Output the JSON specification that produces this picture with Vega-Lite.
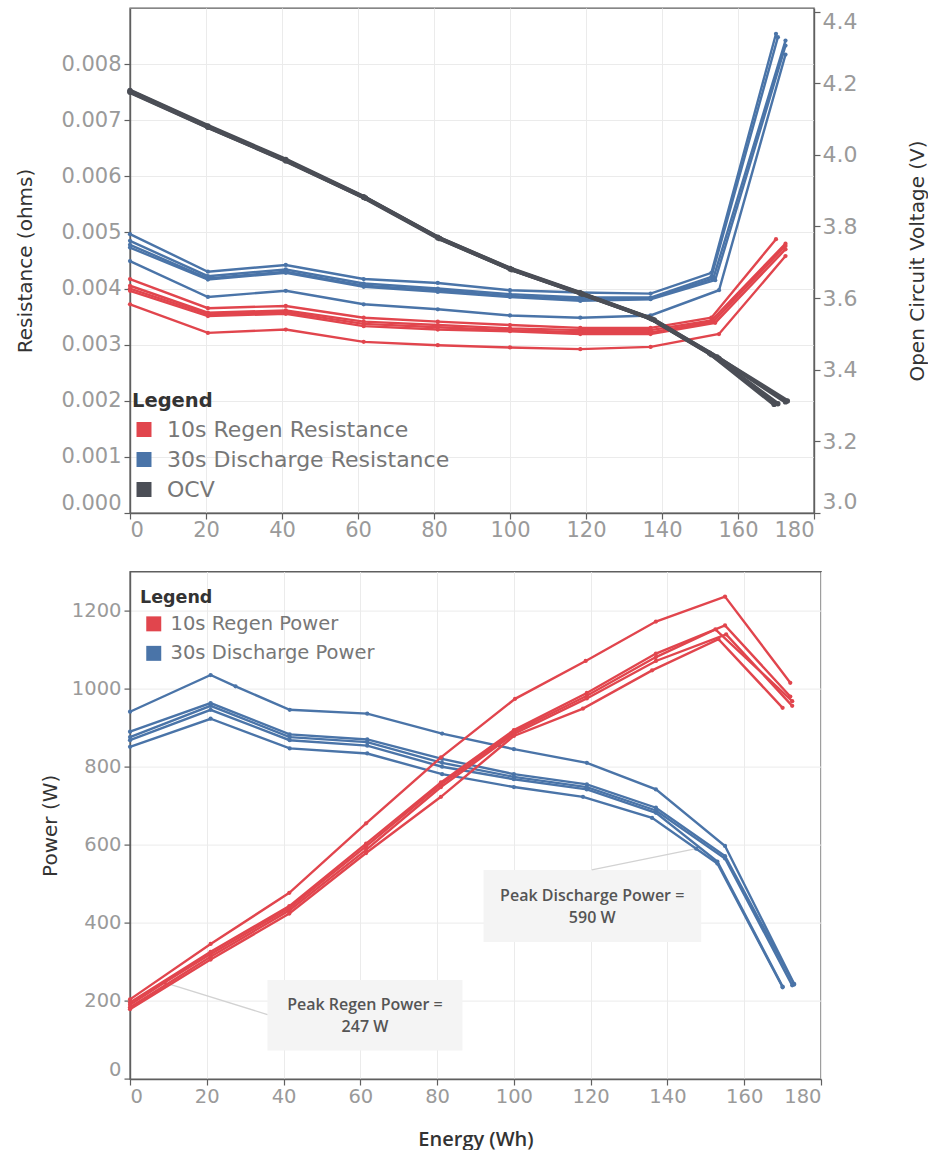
{
  "$schema": "https://vega.github.io/schema/vega-lite/v6.json",
  "padding": {"left": 14, "top": 7, "right": 0, "bottom": 0},
  "bounds": "flush",
  "spacing": 58.6,
  "config": {
    "font": "DejaVu Sans",
    "view": {"stroke": "#5f5f5f", "strokeWidth": 1.4},
    "axis": {
      "labelFont": "DejaVu Sans",
      "titleFont": "DejaVu Sans",
      "labelColor": "#9a9a9a",
      "titleColor": "#333333",
      "titleFontWeight": "normal",
      "domainColor": "#5f5f5f",
      "domainWidth": 1.4,
      "tickColor": "#5f5f5f",
      "tickSize": 6,
      "tickWidth": 1.2,
      "gridColor": "#ebebeb",
      "gridWidth": 1,
      "labelPadding": 3
    },
    "legend": {
      "orient": "none",
      "symbolType": "square",
      "padding": 0,
      "labelLimit": 0,
      "titleFont": "DejaVu Sans",
      "labelFont": "DejaVu Sans",
      "titleFontWeight": "bold",
      "titleColor": "#333333",
      "labelColor": "#777777",
      "symbolOpacity": 1
    }
  },
  "datasets": {
    "resistance": [
      {"cell": "A", "series": "10s Regen Resistance", "energy": 0, "resistance": 0.00417},
      {"cell": "A", "series": "10s Regen Resistance", "energy": 20.5, "resistance": 0.00365},
      {"cell": "A", "series": "10s Regen Resistance", "energy": 41, "resistance": 0.00369},
      {"cell": "A", "series": "10s Regen Resistance", "energy": 61.5, "resistance": 0.00348},
      {"cell": "A", "series": "10s Regen Resistance", "energy": 81, "resistance": 0.00341},
      {"cell": "A", "series": "10s Regen Resistance", "energy": 100, "resistance": 0.00335},
      {"cell": "A", "series": "10s Regen Resistance", "energy": 118.5, "resistance": 0.0033},
      {"cell": "A", "series": "10s Regen Resistance", "energy": 137, "resistance": 0.0033},
      {"cell": "A", "series": "10s Regen Resistance", "energy": 153, "resistance": 0.00348},
      {"cell": "A", "series": "10s Regen Resistance", "energy": 170, "resistance": 0.00488},
      {"cell": "B", "series": "10s Regen Resistance", "energy": 0, "resistance": 0.00405},
      {"cell": "B", "series": "10s Regen Resistance", "energy": 20.5, "resistance": 0.00357},
      {"cell": "B", "series": "10s Regen Resistance", "energy": 41, "resistance": 0.00361},
      {"cell": "B", "series": "10s Regen Resistance", "energy": 61.5, "resistance": 0.00341},
      {"cell": "B", "series": "10s Regen Resistance", "energy": 81, "resistance": 0.00335},
      {"cell": "B", "series": "10s Regen Resistance", "energy": 100, "resistance": 0.00329},
      {"cell": "B", "series": "10s Regen Resistance", "energy": 118.5, "resistance": 0.00326},
      {"cell": "B", "series": "10s Regen Resistance", "energy": 137, "resistance": 0.00326},
      {"cell": "B", "series": "10s Regen Resistance", "energy": 153, "resistance": 0.00343},
      {"cell": "B", "series": "10s Regen Resistance", "energy": 172.5, "resistance": 0.0048},
      {"cell": "C", "series": "10s Regen Resistance", "energy": 0, "resistance": 0.004},
      {"cell": "C", "series": "10s Regen Resistance", "energy": 20.5, "resistance": 0.00354},
      {"cell": "C", "series": "10s Regen Resistance", "energy": 41, "resistance": 0.00358},
      {"cell": "C", "series": "10s Regen Resistance", "energy": 61.5, "resistance": 0.00337},
      {"cell": "C", "series": "10s Regen Resistance", "energy": 81, "resistance": 0.00331},
      {"cell": "C", "series": "10s Regen Resistance", "energy": 100, "resistance": 0.00326},
      {"cell": "C", "series": "10s Regen Resistance", "energy": 118.5, "resistance": 0.00322},
      {"cell": "C", "series": "10s Regen Resistance", "energy": 137, "resistance": 0.00322},
      {"cell": "C", "series": "10s Regen Resistance", "energy": 153.5, "resistance": 0.00341},
      {"cell": "C", "series": "10s Regen Resistance", "energy": 172.5, "resistance": 0.00476},
      {"cell": "D", "series": "10s Regen Resistance", "energy": 0, "resistance": 0.00396},
      {"cell": "D", "series": "10s Regen Resistance", "energy": 20.5, "resistance": 0.00351},
      {"cell": "D", "series": "10s Regen Resistance", "energy": 41, "resistance": 0.00355},
      {"cell": "D", "series": "10s Regen Resistance", "energy": 61.5, "resistance": 0.00333},
      {"cell": "D", "series": "10s Regen Resistance", "energy": 81, "resistance": 0.00327},
      {"cell": "D", "series": "10s Regen Resistance", "energy": 100, "resistance": 0.00324},
      {"cell": "D", "series": "10s Regen Resistance", "energy": 118.5, "resistance": 0.00319},
      {"cell": "D", "series": "10s Regen Resistance", "energy": 137, "resistance": 0.00319},
      {"cell": "D", "series": "10s Regen Resistance", "energy": 154, "resistance": 0.00339},
      {"cell": "D", "series": "10s Regen Resistance", "energy": 172.5, "resistance": 0.0047},
      {"cell": "E", "series": "10s Regen Resistance", "energy": 0, "resistance": 0.00372},
      {"cell": "E", "series": "10s Regen Resistance", "energy": 20.5, "resistance": 0.00321},
      {"cell": "E", "series": "10s Regen Resistance", "energy": 41, "resistance": 0.00327},
      {"cell": "E", "series": "10s Regen Resistance", "energy": 61.5, "resistance": 0.00305},
      {"cell": "E", "series": "10s Regen Resistance", "energy": 81, "resistance": 0.00299},
      {"cell": "E", "series": "10s Regen Resistance", "energy": 100, "resistance": 0.00295},
      {"cell": "E", "series": "10s Regen Resistance", "energy": 118.5, "resistance": 0.00292},
      {"cell": "E", "series": "10s Regen Resistance", "energy": 137, "resistance": 0.00296},
      {"cell": "E", "series": "10s Regen Resistance", "energy": 155, "resistance": 0.00319},
      {"cell": "E", "series": "10s Regen Resistance", "energy": 172.5, "resistance": 0.00458},
      {"cell": "A", "series": "30s Discharge Resistance", "energy": 0, "resistance": 0.00497},
      {"cell": "A", "series": "30s Discharge Resistance", "energy": 20.5, "resistance": 0.0043},
      {"cell": "A", "series": "30s Discharge Resistance", "energy": 41, "resistance": 0.00442},
      {"cell": "A", "series": "30s Discharge Resistance", "energy": 61.5, "resistance": 0.00417},
      {"cell": "A", "series": "30s Discharge Resistance", "energy": 81, "resistance": 0.0041},
      {"cell": "A", "series": "30s Discharge Resistance", "energy": 100, "resistance": 0.00397},
      {"cell": "A", "series": "30s Discharge Resistance", "energy": 118.5, "resistance": 0.00393},
      {"cell": "A", "series": "30s Discharge Resistance", "energy": 137, "resistance": 0.00391},
      {"cell": "A", "series": "30s Discharge Resistance", "energy": 153, "resistance": 0.00428},
      {"cell": "A", "series": "30s Discharge Resistance", "energy": 170, "resistance": 0.00854},
      {"cell": "B", "series": "30s Discharge Resistance", "energy": 0, "resistance": 0.00485},
      {"cell": "B", "series": "30s Discharge Resistance", "energy": 20.5, "resistance": 0.00422},
      {"cell": "B", "series": "30s Discharge Resistance", "energy": 41, "resistance": 0.00434},
      {"cell": "B", "series": "30s Discharge Resistance", "energy": 61.5, "resistance": 0.00409},
      {"cell": "B", "series": "30s Discharge Resistance", "energy": 81, "resistance": 0.004},
      {"cell": "B", "series": "30s Discharge Resistance", "energy": 100, "resistance": 0.0039},
      {"cell": "B", "series": "30s Discharge Resistance", "energy": 118.5, "resistance": 0.00384},
      {"cell": "B", "series": "30s Discharge Resistance", "energy": 137, "resistance": 0.00384},
      {"cell": "B", "series": "30s Discharge Resistance", "energy": 153, "resistance": 0.00421},
      {"cell": "B", "series": "30s Discharge Resistance", "energy": 170.5, "resistance": 0.00848},
      {"cell": "C", "series": "30s Discharge Resistance", "energy": 0, "resistance": 0.00478},
      {"cell": "C", "series": "30s Discharge Resistance", "energy": 20.5, "resistance": 0.00418},
      {"cell": "C", "series": "30s Discharge Resistance", "energy": 41, "resistance": 0.0043},
      {"cell": "C", "series": "30s Discharge Resistance", "energy": 61.5, "resistance": 0.00405},
      {"cell": "C", "series": "30s Discharge Resistance", "energy": 81, "resistance": 0.00397},
      {"cell": "C", "series": "30s Discharge Resistance", "energy": 100, "resistance": 0.00387},
      {"cell": "C", "series": "30s Discharge Resistance", "energy": 118.5, "resistance": 0.00381},
      {"cell": "C", "series": "30s Discharge Resistance", "energy": 137, "resistance": 0.00382},
      {"cell": "C", "series": "30s Discharge Resistance", "energy": 153.5, "resistance": 0.00418},
      {"cell": "C", "series": "30s Discharge Resistance", "energy": 172.5, "resistance": 0.00842},
      {"cell": "D", "series": "30s Discharge Resistance", "energy": 0, "resistance": 0.00473},
      {"cell": "D", "series": "30s Discharge Resistance", "energy": 20.5, "resistance": 0.00416},
      {"cell": "D", "series": "30s Discharge Resistance", "energy": 41, "resistance": 0.00428},
      {"cell": "D", "series": "30s Discharge Resistance", "energy": 61.5, "resistance": 0.00403},
      {"cell": "D", "series": "30s Discharge Resistance", "energy": 81, "resistance": 0.00394},
      {"cell": "D", "series": "30s Discharge Resistance", "energy": 100, "resistance": 0.00385},
      {"cell": "D", "series": "30s Discharge Resistance", "energy": 118.5, "resistance": 0.00378},
      {"cell": "D", "series": "30s Discharge Resistance", "energy": 137, "resistance": 0.00381},
      {"cell": "D", "series": "30s Discharge Resistance", "energy": 154, "resistance": 0.00415},
      {"cell": "D", "series": "30s Discharge Resistance", "energy": 172.5, "resistance": 0.00833},
      {"cell": "E", "series": "30s Discharge Resistance", "energy": 0, "resistance": 0.00449},
      {"cell": "E", "series": "30s Discharge Resistance", "energy": 20.5, "resistance": 0.00385},
      {"cell": "E", "series": "30s Discharge Resistance", "energy": 41, "resistance": 0.00396},
      {"cell": "E", "series": "30s Discharge Resistance", "energy": 61.5, "resistance": 0.00372},
      {"cell": "E", "series": "30s Discharge Resistance", "energy": 81, "resistance": 0.00363},
      {"cell": "E", "series": "30s Discharge Resistance", "energy": 100, "resistance": 0.00352},
      {"cell": "E", "series": "30s Discharge Resistance", "energy": 118.5, "resistance": 0.00348},
      {"cell": "E", "series": "30s Discharge Resistance", "energy": 137, "resistance": 0.00352},
      {"cell": "E", "series": "30s Discharge Resistance", "energy": 155, "resistance": 0.00397},
      {"cell": "E", "series": "30s Discharge Resistance", "energy": 172.5, "resistance": 0.00817}
    ],
    "ocv": [
      {"cell": "A", "series": "OCV", "energy": 0, "ocv": 4.18},
      {"cell": "A", "series": "OCV", "energy": 20.5, "ocv": 4.081},
      {"cell": "A", "series": "OCV", "energy": 41, "ocv": 3.987},
      {"cell": "A", "series": "OCV", "energy": 61.5, "ocv": 3.883},
      {"cell": "A", "series": "OCV", "energy": 81, "ocv": 3.77},
      {"cell": "A", "series": "OCV", "energy": 100, "ocv": 3.683},
      {"cell": "A", "series": "OCV", "energy": 118.5, "ocv": 3.615},
      {"cell": "A", "series": "OCV", "energy": 136.5, "ocv": 3.546},
      {"cell": "A", "series": "OCV", "energy": 152.5, "ocv": 3.446},
      {"cell": "A", "series": "OCV", "energy": 169.5, "ocv": 3.303},
      {"cell": "B", "series": "OCV", "energy": 0, "ocv": 4.178},
      {"cell": "B", "series": "OCV", "energy": 20.5, "ocv": 4.079},
      {"cell": "B", "series": "OCV", "energy": 41, "ocv": 3.985},
      {"cell": "B", "series": "OCV", "energy": 61.5, "ocv": 3.881},
      {"cell": "B", "series": "OCV", "energy": 81, "ocv": 3.768},
      {"cell": "B", "series": "OCV", "energy": 100, "ocv": 3.681},
      {"cell": "B", "series": "OCV", "energy": 118.5, "ocv": 3.613},
      {"cell": "B", "series": "OCV", "energy": 137, "ocv": 3.543},
      {"cell": "B", "series": "OCV", "energy": 153, "ocv": 3.442},
      {"cell": "B", "series": "OCV", "energy": 170.5, "ocv": 3.305},
      {"cell": "C", "series": "OCV", "energy": 0, "ocv": 4.176},
      {"cell": "C", "series": "OCV", "energy": 20.5, "ocv": 4.078},
      {"cell": "C", "series": "OCV", "energy": 41, "ocv": 3.984},
      {"cell": "C", "series": "OCV", "energy": 62, "ocv": 3.88},
      {"cell": "C", "series": "OCV", "energy": 81.5, "ocv": 3.767},
      {"cell": "C", "series": "OCV", "energy": 100.5, "ocv": 3.68},
      {"cell": "C", "series": "OCV", "energy": 119, "ocv": 3.612},
      {"cell": "C", "series": "OCV", "energy": 137.5, "ocv": 3.541},
      {"cell": "C", "series": "OCV", "energy": 154.5, "ocv": 3.436},
      {"cell": "C", "series": "OCV", "energy": 172.5, "ocv": 3.31},
      {"cell": "D", "series": "OCV", "energy": 0, "ocv": 4.175},
      {"cell": "D", "series": "OCV", "energy": 20.5, "ocv": 4.077},
      {"cell": "D", "series": "OCV", "energy": 41, "ocv": 3.983},
      {"cell": "D", "series": "OCV", "energy": 62, "ocv": 3.879},
      {"cell": "D", "series": "OCV", "energy": 81.5, "ocv": 3.766},
      {"cell": "D", "series": "OCV", "energy": 100.5, "ocv": 3.679},
      {"cell": "D", "series": "OCV", "energy": 119, "ocv": 3.611},
      {"cell": "D", "series": "OCV", "energy": 138, "ocv": 3.539},
      {"cell": "D", "series": "OCV", "energy": 155, "ocv": 3.432},
      {"cell": "D", "series": "OCV", "energy": 173, "ocv": 3.313}
    ],
    "power": [
      {"cell": "A", "series": "30s Discharge Power", "energy": 0, "power": 941},
      {"cell": "A", "series": "30s Discharge Power", "energy": 21, "power": 1035},
      {"cell": "A", "series": "30s Discharge Power", "energy": 27.5, "power": 1006},
      {"cell": "A", "series": "30s Discharge Power", "energy": 41.6, "power": 946},
      {"cell": "A", "series": "30s Discharge Power", "energy": 61.8, "power": 936},
      {"cell": "A", "series": "30s Discharge Power", "energy": 81.3, "power": 885},
      {"cell": "A", "series": "30s Discharge Power", "energy": 100, "power": 845},
      {"cell": "A", "series": "30s Discharge Power", "energy": 119, "power": 810},
      {"cell": "A", "series": "30s Discharge Power", "energy": 137, "power": 742},
      {"cell": "A", "series": "30s Discharge Power", "energy": 155, "power": 597},
      {"cell": "A", "series": "30s Discharge Power", "energy": 173, "power": 244},
      {"cell": "B", "series": "30s Discharge Power", "energy": 0, "power": 890},
      {"cell": "B", "series": "30s Discharge Power", "energy": 21, "power": 963},
      {"cell": "B", "series": "30s Discharge Power", "energy": 41.6, "power": 883},
      {"cell": "B", "series": "30s Discharge Power", "energy": 61.8, "power": 870},
      {"cell": "B", "series": "30s Discharge Power", "energy": 81.3, "power": 820},
      {"cell": "B", "series": "30s Discharge Power", "energy": 100, "power": 781},
      {"cell": "B", "series": "30s Discharge Power", "energy": 119, "power": 755},
      {"cell": "B", "series": "30s Discharge Power", "energy": 137, "power": 695},
      {"cell": "B", "series": "30s Discharge Power", "energy": 155, "power": 571},
      {"cell": "B", "series": "30s Discharge Power", "energy": 173, "power": 242},
      {"cell": "C", "series": "30s Discharge Power", "energy": 0, "power": 876},
      {"cell": "C", "series": "30s Discharge Power", "energy": 21, "power": 956},
      {"cell": "C", "series": "30s Discharge Power", "energy": 41.6, "power": 876},
      {"cell": "C", "series": "30s Discharge Power", "energy": 61.8, "power": 863},
      {"cell": "C", "series": "30s Discharge Power", "energy": 81.3, "power": 810},
      {"cell": "C", "series": "30s Discharge Power", "energy": 100, "power": 774},
      {"cell": "C", "series": "30s Discharge Power", "energy": 119, "power": 748},
      {"cell": "C", "series": "30s Discharge Power", "energy": 137, "power": 688},
      {"cell": "C", "series": "30s Discharge Power", "energy": 155, "power": 565},
      {"cell": "C", "series": "30s Discharge Power", "energy": 172.5, "power": 240},
      {"cell": "D", "series": "30s Discharge Power", "energy": 0, "power": 868},
      {"cell": "D", "series": "30s Discharge Power", "energy": 21, "power": 946},
      {"cell": "D", "series": "30s Discharge Power", "energy": 41.6, "power": 868},
      {"cell": "D", "series": "30s Discharge Power", "energy": 61.8, "power": 854},
      {"cell": "D", "series": "30s Discharge Power", "energy": 81.3, "power": 800},
      {"cell": "D", "series": "30s Discharge Power", "energy": 100, "power": 768},
      {"cell": "D", "series": "30s Discharge Power", "energy": 119, "power": 742},
      {"cell": "D", "series": "30s Discharge Power", "energy": 137, "power": 682},
      {"cell": "D", "series": "30s Discharge Power", "energy": 153, "power": 557},
      {"cell": "D", "series": "30s Discharge Power", "energy": 170, "power": 237},
      {"cell": "E", "series": "30s Discharge Power", "energy": 0, "power": 851},
      {"cell": "E", "series": "30s Discharge Power", "energy": 21, "power": 923},
      {"cell": "E", "series": "30s Discharge Power", "energy": 41.6, "power": 847},
      {"cell": "E", "series": "30s Discharge Power", "energy": 61.8, "power": 834},
      {"cell": "E", "series": "30s Discharge Power", "energy": 81.3, "power": 781},
      {"cell": "E", "series": "30s Discharge Power", "energy": 100, "power": 748},
      {"cell": "E", "series": "30s Discharge Power", "energy": 118, "power": 723},
      {"cell": "E", "series": "30s Discharge Power", "energy": 136, "power": 669},
      {"cell": "E", "series": "30s Discharge Power", "energy": 147.5, "power": 590},
      {"cell": "E", "series": "30s Discharge Power", "energy": 153, "power": 552},
      {"cell": "E", "series": "30s Discharge Power", "energy": 170, "power": 235},
      {"cell": "A", "series": "10s Regen Power", "energy": 0, "power": 204},
      {"cell": "A", "series": "10s Regen Power", "energy": 21, "power": 346},
      {"cell": "A", "series": "10s Regen Power", "energy": 41.5, "power": 477},
      {"cell": "A", "series": "10s Regen Power", "energy": 61.5, "power": 655},
      {"cell": "A", "series": "10s Regen Power", "energy": 81, "power": 824},
      {"cell": "A", "series": "10s Regen Power", "energy": 100.3, "power": 974},
      {"cell": "A", "series": "10s Regen Power", "energy": 118.7, "power": 1071},
      {"cell": "A", "series": "10s Regen Power", "energy": 137, "power": 1172},
      {"cell": "A", "series": "10s Regen Power", "energy": 155, "power": 1236},
      {"cell": "A", "series": "10s Regen Power", "energy": 172, "power": 1015},
      {"cell": "B", "series": "10s Regen Power", "energy": 0, "power": 196},
      {"cell": "B", "series": "10s Regen Power", "energy": 21, "power": 326},
      {"cell": "B", "series": "10s Regen Power", "energy": 41.5, "power": 443},
      {"cell": "B", "series": "10s Regen Power", "energy": 61.5, "power": 603},
      {"cell": "B", "series": "10s Regen Power", "energy": 81, "power": 760},
      {"cell": "B", "series": "10s Regen Power", "energy": 100, "power": 894},
      {"cell": "B", "series": "10s Regen Power", "energy": 119, "power": 989},
      {"cell": "B", "series": "10s Regen Power", "energy": 137, "power": 1090},
      {"cell": "B", "series": "10s Regen Power", "energy": 155, "power": 1162},
      {"cell": "B", "series": "10s Regen Power", "energy": 172, "power": 980},
      {"cell": "C", "series": "10s Regen Power", "energy": 0, "power": 190},
      {"cell": "C", "series": "10s Regen Power", "energy": 9, "power": 247},
      {"cell": "C", "series": "10s Regen Power", "energy": 21, "power": 320},
      {"cell": "C", "series": "10s Regen Power", "energy": 41.5, "power": 438},
      {"cell": "C", "series": "10s Regen Power", "energy": 61.5, "power": 596},
      {"cell": "C", "series": "10s Regen Power", "energy": 81, "power": 755},
      {"cell": "C", "series": "10s Regen Power", "energy": 100, "power": 889},
      {"cell": "C", "series": "10s Regen Power", "energy": 119, "power": 982},
      {"cell": "C", "series": "10s Regen Power", "energy": 137, "power": 1081},
      {"cell": "C", "series": "10s Regen Power", "energy": 152.5, "power": 1152},
      {"cell": "C", "series": "10s Regen Power", "energy": 172.5, "power": 968},
      {"cell": "D", "series": "10s Regen Power", "energy": 0, "power": 184},
      {"cell": "D", "series": "10s Regen Power", "energy": 21, "power": 313},
      {"cell": "D", "series": "10s Regen Power", "energy": 41.5, "power": 432},
      {"cell": "D", "series": "10s Regen Power", "energy": 61.5, "power": 587},
      {"cell": "D", "series": "10s Regen Power", "energy": 81, "power": 748},
      {"cell": "D", "series": "10s Regen Power", "energy": 100, "power": 884},
      {"cell": "D", "series": "10s Regen Power", "energy": 119, "power": 975},
      {"cell": "D", "series": "10s Regen Power", "energy": 137, "power": 1071},
      {"cell": "D", "series": "10s Regen Power", "energy": 155.3, "power": 1139},
      {"cell": "D", "series": "10s Regen Power", "energy": 172.5, "power": 956},
      {"cell": "E", "series": "10s Regen Power", "energy": 0, "power": 179},
      {"cell": "E", "series": "10s Regen Power", "energy": 21, "power": 306},
      {"cell": "E", "series": "10s Regen Power", "energy": 41.5, "power": 424},
      {"cell": "E", "series": "10s Regen Power", "energy": 61.5, "power": 579},
      {"cell": "E", "series": "10s Regen Power", "energy": 81, "power": 723},
      {"cell": "E", "series": "10s Regen Power", "energy": 100, "power": 879},
      {"cell": "E", "series": "10s Regen Power", "energy": 118, "power": 949},
      {"cell": "E", "series": "10s Regen Power", "energy": 136, "power": 1047},
      {"cell": "E", "series": "10s Regen Power", "energy": 153.3, "power": 1127},
      {"cell": "E", "series": "10s Regen Power", "energy": 170, "power": 951}
    ],
    "callouts": [
      {"label": "Peak Regen Power =\n247 W", "boxFrom": 35.8, "boxTo": 86.6, "boxLow": 72.8, "boxHigh": 253.7, "textEnergy": 61.2, "textPower": 190, "fromEnergy": 35.8, "fromPower": 165, "toEnergy": 9, "toPower": 247},
      {"label": "Peak Discharge Power =\n590 W", "boxFrom": 92.1, "boxTo": 148.8, "boxLow": 351, "boxHigh": 535.5, "textEnergy": 120.4, "textPower": 469, "fromEnergy": 120.3, "fromPower": 536, "toEnergy": 147.5, "toPower": 590}
    ]
  },
  "vconcat": [
    {
      "width": 684,
      "height": 505,
      "layer": [
        {
          "data": {"name": "resistance"},
          "mark": {"type": "line", "strokeWidth": 2.4, "point": {"filled": true, "size": 18}},
          "encoding": {
            "x": {
              "field": "energy", "type": "quantitative",
              "scale": {"domain": [0, 180], "nice": false},
              "axis": {"values": [0, 20, 40, 60, 80, 100, 120, 140, 160, 180], "title": null, "labelFontSize": 21, "labelFlush": 5, "labelPadding": 0, "grid": true}
            },
            "y": {
              "field": "resistance", "type": "quantitative",
              "scale": {"domain": [0, 0.009], "nice": false},
              "axis": {"values": [0, 0.001, 0.002, 0.003, 0.004, 0.005, 0.006, 0.007, 0.008], "format": ".3f", "title": "Resistance (ohms)", "titleFontSize": 20, "titleX": -105, "titleBaseline": "middle", "labelFontSize": 21, "labelFlush": 5, "grid": true}
            },
            "color": {
              "field": "series", "type": "nominal",
              "scale": {"domain": ["10s Regen Resistance", "30s Discharge Resistance", "OCV"], "range": ["#e1454d", "#4a74a8", "#4b4e56"]},
              "legend": {"title": "Legend", "legendX": 2, "legendY": 384, "titleFontSize": 19.5, "labelFontSize": 22, "symbolSize": 56, "symbolStrokeWidth": 7.5, "symbolOffset": 1, "labelOffset": 12, "rowPadding": -9.5, "titlePadding": 7}
            },
            "detail": {"field": "cell"}
          }
        },
        {
          "data": {"name": "ocv"},
          "mark": {"type": "line", "strokeWidth": 3.8, "point": {"filled": true, "size": 28}},
          "encoding": {
            "x": {"field": "energy", "type": "quantitative"},
            "y": {
              "field": "ocv", "type": "quantitative",
              "scale": {"domain": [3.0, 4.41], "nice": false, "zero": false},
              "axis": {"orient": "right", "values": [3.0, 3.2, 3.4, 3.6, 3.8, 4.0, 4.2, 4.4], "format": ".1f", "title": "Open Circuit Voltage (V)", "titleFontSize": 20, "titleAngle": -90, "titleX": 103, "titleBaseline": "middle", "labelFontSize": 22, "labelFlush": 5, "labelPadding": 2, "grid": false}
            },
            "color": {"field": "series", "type": "nominal"},
            "detail": {"field": "cell"}
          }
        }
      ],
      "resolve": {"scale": {"y": "independent"}}
    },
    {
      "width": 691,
      "height": 507.4,
      "layer": [
        {
          "data": {"name": "callouts"},
          "mark": {"type": "rect", "fill": "#f4f4f4", "stroke": null},
          "encoding": {
            "x": {"field": "boxFrom", "type": "quantitative", "title": "Energy (Wh)"},
            "x2": {"field": "boxTo"},
            "y": {"field": "boxLow", "type": "quantitative", "title": "Power (W)"},
            "y2": {"field": "boxHigh"}
          }
        },
        {
          "data": {"name": "callouts"},
          "mark": {"type": "rule", "color": "#d2d2d2", "strokeWidth": 1.3},
          "encoding": {
            "x": {"field": "fromEnergy", "type": "quantitative", "title": "Energy (Wh)"},
            "x2": {"field": "toEnergy"},
            "y": {"field": "fromPower", "type": "quantitative", "title": "Power (W)"},
            "y2": {"field": "toPower"}
          }
        },
        {
          "data": {"name": "power"},
          "mark": {"type": "line", "strokeWidth": 2.4, "point": {"filled": true, "size": 18}},
          "encoding": {
            "x": {
              "field": "energy", "type": "quantitative", "title": "Energy (Wh)",
              "scale": {"domain": [0, 180], "nice": false},
              "axis": {"values": [0, 20, 40, 60, 80, 100, 120, 140, 160, 180], "labelFontSize": 19.5, "labelFlush": 5, "labelPadding": 2, "grid": true, "titleFont": "Open Sans", "titleFontWeight": 600, "titleFontSize": 20, "titleY": 60, "titleBaseline": "middle"}
            },
            "y": {
              "field": "power", "type": "quantitative", "title": "Power (W)",
              "scale": {"domain": [0, 1300], "nice": false},
              "axis": {"values": [0, 200, 400, 600, 800, 1000, 1200], "format": "d", "labelFontSize": 19.5, "labelFlush": 5, "grid": true, "titleFontSize": 20, "titleX": -79.3, "titleBaseline": "middle"}
            },
            "color": {
              "field": "series", "type": "nominal",
              "scale": {"domain": ["10s Regen Power", "30s Discharge Power"], "range": ["#e1454d", "#4a74a8"]},
              "legend": {"title": "Legend", "legendX": 10, "legendY": 17, "titleFontSize": 17.5, "labelFontSize": 19.5, "symbolSize": 56, "symbolStrokeWidth": 7.5, "symbolOffset": 4, "labelOffset": 7, "rowPadding": -8.5, "titlePadding": 8}
            },
            "detail": {"field": "cell"}
          }
        },
        {
          "data": {"name": "callouts"},
          "mark": {"type": "text", "font": "Open Sans", "fontWeight": 600, "fontSize": 16, "color": "#555555", "lineBreak": "\n", "lineHeight": 22.5, "align": "center", "baseline": "middle"},
          "encoding": {
            "x": {"field": "textEnergy", "type": "quantitative", "title": "Energy (Wh)"},
            "y": {"field": "textPower", "type": "quantitative", "title": "Power (W)"},
            "text": {"field": "label"}
          }
        }
      ]
    }
  ],
  "resolve": {"scale": {"x": "independent", "y": "independent", "color": "independent"}, "legend": {"color": "independent"}}
}
